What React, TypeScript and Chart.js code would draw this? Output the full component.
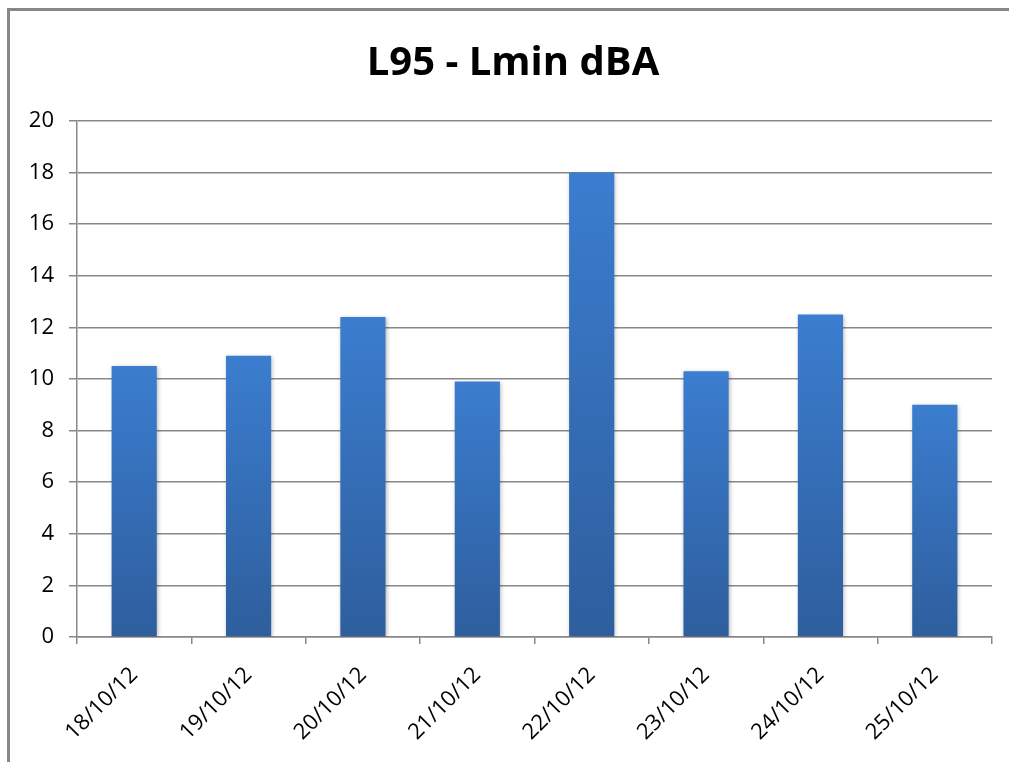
import React, { useEffect, useRef } from "react";
import { Chart, registerables } from "chart.js";

Chart.register(...registerables);

const chartTitle = "L95 - Lmin dBA";
const categories = ["18/10/12", "19/10/12", "20/10/12", "21/10/12", "22/10/12", "23/10/12", "24/10/12", "25/10/12"];
const values = [10.5, 10.9, 12.4, 9.9, 18.0, 10.3, 12.5, 9.0];
const yMin = 0;
const yMax = 20;
const yStep = 2;

const W = 1009;
const H = 762;
const FONT = "'Open Sans', 'Noto Sans', sans-serif";

const framePlugin = {
  id: "frame",
  beforeDraw(chart: any) {
    const ctx = chart.ctx;
    ctx.save();
    ctx.fillStyle = "#ffffff";
    ctx.fillRect(0, 0, chart.width, chart.height);
    ctx.fillStyle = "#878787";
    ctx.fillRect(7, 8, 3, chart.height - 8);
    ctx.fillRect(7, 8, chart.width - 7, 3);
    ctx.restore();
  },
  beforeDatasetsDraw(chart: any) {
    const ctx = chart.ctx;
    ctx.save();
    ctx.shadowColor = "rgba(0,0,0,0.28)";
    ctx.shadowBlur = 4;
    ctx.shadowOffsetX = 1;
    ctx.shadowOffsetY = 1;
  },
  afterDatasetsDraw(chart: any) {
    chart.ctx.restore();
  },
};

export default function App() {
  const ref = useRef<HTMLCanvasElement | null>(null);

  useEffect(() => {
    if (!ref.current) return;
    const chart = new Chart(ref.current, {
      type: "bar",
      data: {
        labels: categories,
        datasets: [
          {
            data: values,
            backgroundColor: (c: any) => {
              const chartObj = c.chart;
              const ys = chartObj.scales && chartObj.scales.y;
              if (!ys || c.dataIndex === undefined) return "#3a78c6";
              const v = values[c.dataIndex];
              const top = ys.getPixelForValue(v);
              const bottom = ys.getPixelForValue(0);
              if (!isFinite(top) || !isFinite(bottom) || top === bottom) return "#3a78c6";
              const g = chartObj.ctx.createLinearGradient(0, top, 0, bottom);
              g.addColorStop(0, "#3b7dcf");
              g.addColorStop(1, "#2e5e9d");
              return g;
            },
            borderWidth: 0,
            categoryPercentage: 1,
            barPercentage: 0.395,
          },
        ],
      },
      options: {
        responsive: false,
        animation: false,
        devicePixelRatio: 1,
        layout: { padding: { left: 17, right: 0, top: 0, bottom: 0 } },
        plugins: {
          legend: { display: false },
          tooltip: { enabled: false },
          title: {
            display: true,
            text: chartTitle,
            color: "#000000",
            font: { family: FONT, size: 40, weight: "bold", lineHeight: 1.2 },
            padding: { top: 40, bottom: 33 },
          },
        },
        scales: {
          x: {
            offset: true,
            grid: {
              display: true,
              offset: true,
              drawOnChartArea: false,
              drawTicks: true,
              tickLength: 7,
              color: "#888888",
              lineWidth: 1.5,
            },
            border: { display: true, color: "#888888", width: 1.5 },
            ticks: {
              color: "#000000",
              font: { family: FONT, size: 22 },
              minRotation: 45,
              maxRotation: 45,
              padding: 18,
              autoSkip: false,
            },
            afterFit: (s: any) => {
              s.height = H - 637;
            },
          },
          y: {
            min: yMin,
            max: yMax,
            grid: {
              color: "#888888",
              lineWidth: 1.5,
              drawTicks: true,
              tickLength: 8,
            },
            border: { display: true, color: "#888888", width: 1.5 },
            ticks: {
              stepSize: yStep,
              color: "#000000",
              font: { family: FONT, size: 22 },
              padding: 15,
            },
            afterFit: (s: any) => {
              s.width = 60;
            },
          },
          yRight: {
            position: "right",
            display: true,
            grid: { display: false, drawTicks: false },
            border: { display: false },
            ticks: { display: false },
            afterFit: (s: any) => {
              s.width = 17;
            },
          },
        },
      },
      plugins: [framePlugin],
    } as any);
    return () => chart.destroy();
  }, []);

  return (
    <div style={{ position: "fixed", left: 0, top: 0, width: W, height: H, background: "#fff" }}>
      <canvas ref={ref} width={W} height={H} style={{ display: "block", width: W, height: H }} />
    </div>
  );
}
